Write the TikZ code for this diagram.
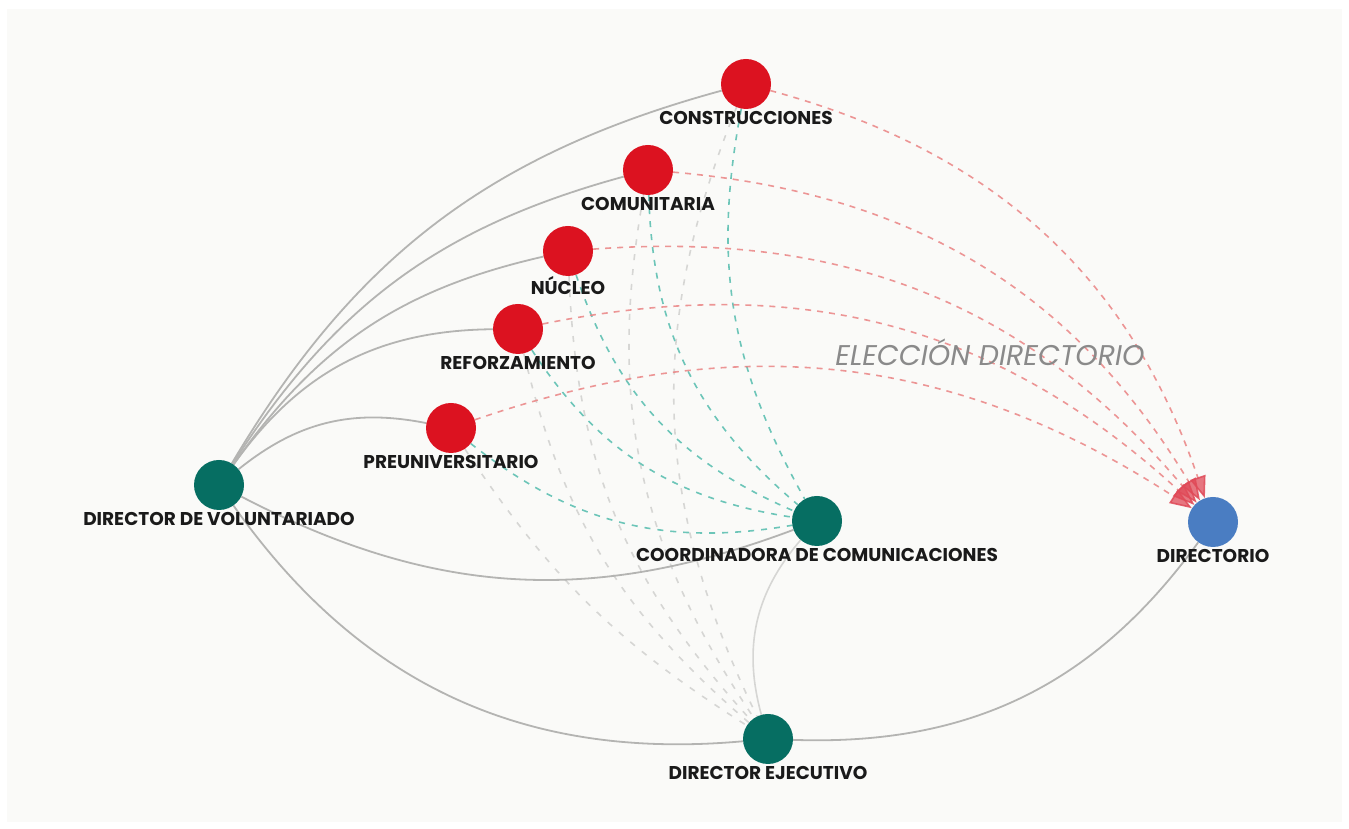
\documentclass[tikz,border=0pt]{standalone}
\usepackage{fontspec}
\setmainfont{Poppins}
\usetikzlibrary{arrows.meta}
\definecolor{bgc}{HTML}{FAFAF8}
\definecolor{rednode}{HTML}{DC1220}
\definecolor{tealnode}{HTML}{066E62}
\definecolor{bluenode}{HTML}{4A7DC2}
\definecolor{redline}{HTML}{EA8484}
\definecolor{redtip}{HTML}{E04A58}
\definecolor{tealline}{HTML}{6CC5B8}
\definecolor{grayline}{HTML}{B4B4B2}
\definecolor{lightline}{HTML}{D6D6D4}
\definecolor{labc}{HTML}{1A1A1A}
\definecolor{elec}{HTML}{8A8A8A}
\tikzset{
  dot/.style={circle,minimum size=50pt,inner sep=0pt},
  reddot/.style={dot,fill=rednode},
  tealdot/.style={dot,fill=tealnode},
  bluedot/.style={dot,fill=bluenode},
  lab/.style={font=\fontsize{18.5}{18.5}\selectfont\bfseries,text=labc,anchor=center,yshift=-9pt,inner sep=0pt},
  solidlink/.style={draw=grayline,line width=1.8pt},
  thinlink/.style={draw=lightline,line width=1.6pt},
  elink/.style={draw=redline,line width=1.6pt,dash pattern=on 6pt off 6pt,-{Triangle[length=22pt,width=16pt,color=redtip]},draw opacity=0.85,fill opacity=0.75},
  tlink/.style={draw=tealline,line width=1.6pt,dash pattern=on 6pt off 7pt},
  glink/.style={draw=lightline,line width=1.6pt,dash pattern=on 6pt off 9pt},
}
\begin{document}
\begin{tikzpicture}[x=1pt,y=1pt]
\useasboundingbox (0,0) rectangle (1349,829);
\fill[white] (0,0) rectangle (1349,829);
\fill[bgc] (7,7) rectangle (1342,820);
% node positions
\coordinate (pvol) at (219,344);
\coordinate (pcon) at (746,745);
\coordinate (pcom) at (648,659);
\coordinate (pnuc) at (568,578);
\coordinate (pref) at (518,500);
\coordinate (ppre) at (451,401);
\coordinate (pcoo) at (817,308);
\coordinate (pdir) at (1213,307);
\coordinate (peje) at (768,90);
% shape nodes (empty, for connectors)
\node[dot] (vol) at (pvol) {};
\node[dot] (con) at (pcon) {};
\node[dot] (com) at (pcom) {};
\node[dot] (nuc) at (pnuc) {};
\node[dot] (ref) at (pref) {};
\node[dot] (pre) at (ppre) {};
\node[dot] (coo) at (pcoo) {};
\node[dot] (dir) at (pdir) {};
\node[dot] (eje) at (peje) {};
% light gray dashed to ejecutivo
\draw[glink] (con) to[bend right=24] (eje);
\draw[glink] (com) to[bend right=22] (eje);
\draw[glink] (nuc) to[bend right=20] (eje);
\draw[glink] (ref) to[bend right=18] (eje);
\draw[glink] (pre) to[bend right=12] (eje);
% teal dashed to coordinadora
\draw[tlink] (con) to[bend right=20] (coo);
\draw[tlink] (com) to[bend right=24] (coo);
\draw[tlink] (nuc) to[bend right=24] (coo);
\draw[tlink] (ref) to[bend right=24] (coo);
\draw[tlink] (pre) to[bend right=24] (coo);
% red dashed to directorio
\draw[elink] (con) to[bend left=28] (dir);
\draw[elink] (com) to[bend left=27] (dir);
\draw[elink] (nuc) to[bend left=27] (dir);
\draw[elink] (ref) to[bend left=27] (dir);
\draw[elink] (pre) to[bend left=26] (dir);
% solid links
\draw[solidlink] (vol) to[bend left=22] (con);
\draw[solidlink] (vol) to[bend left=21] (com);
\draw[solidlink] (vol) to[bend left=21] (nuc);
\draw[solidlink] (vol) to[bend left=27] (ref);
\draw[solidlink] (vol) to[bend left=25] (pre);
\draw[solidlink] (vol) to[bend right=24] (coo);
\draw[solidlink] (vol) to[bend right=30] (eje);
\draw[solidlink] (eje) to[bend right=28] (dir);
\draw[thinlink] (coo) to[bend right=28] (eje);
% visible dots with labels
\node[reddot,label={[lab]below:CONSTRUCCIONES}] (dcon) at (pcon) {};
\node[reddot,label={[lab]below:COMUNITARIA}] (dcom) at (pcom) {};
\node[reddot,label={[lab]below:NÚCLEO}] (dnuc) at (pnuc) {};
\node[reddot,label={[lab]below:REFORZAMIENTO}] (dref) at (pref) {};
\node[reddot,label={[lab]below:PREUNIVERSITARIO}] (dpre) at (ppre) {};
\node[tealdot,label={[lab]below:DIRECTOR DE VOLUNTARIADO}] (dvol) at (pvol) {};
\node[tealdot,label={[lab]below:COORDINADORA DE COMUNICACIONES}] (dcoo) at (pcoo) {};
\node[bluedot,label={[lab]below:DIRECTORIO}] (ddir) at (pdir) {};
\node[tealdot,label={[lab]below:DIRECTOR EJECUTIVO}] (deje) at (peje) {};
\node[font=\fontsize{28.5}{28.5}\selectfont\itshape,text=elec,inner sep=0pt] (elecc) at (990,477) {ELECCIÓN DIRECTORIO};
\end{tikzpicture}
\end{document}
